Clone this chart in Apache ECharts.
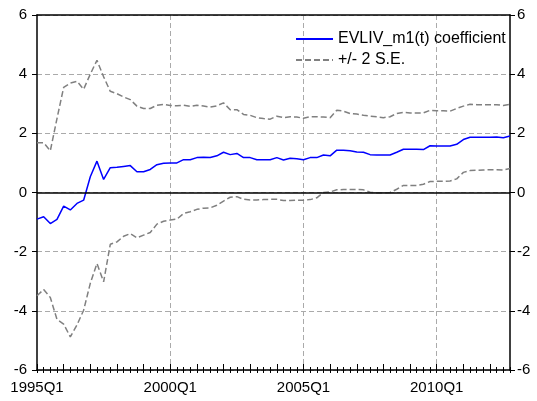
<!DOCTYPE html>
<html><head><meta charset="utf-8">
<script src="https://cdn.jsdelivr.net/npm/echarts@6/dist/echarts.min.js"></script>
<style>html,body{margin:0;padding:0;background:#fff}#c{width:537px;height:401px}</style>
</head><body><div id="c"></div>
<script>
const startYear = 1995;
const nQuarters = 72;
const categories = [];
for (let k = 0; k < nQuarters; k++) categories.push((startYear + Math.floor(k / 4)) + 'Q' + (k % 4 + 1));

const coefficient = [
  -0.90, -0.82, -1.05, -0.91, -0.46, -0.59, -0.37, -0.26, 0.53, 1.06,
  0.44, 0.84, 0.85, 0.88, 0.91, 0.70, 0.70, 0.78, 0.94, 0.99,
  1.00, 1.00, 1.11, 1.11, 1.18, 1.19, 1.18, 1.24, 1.36, 1.28,
  1.32, 1.18, 1.18, 1.11, 1.11, 1.11, 1.18, 1.10, 1.16, 1.14,
  1.11, 1.18, 1.18, 1.27, 1.24, 1.43, 1.43, 1.41, 1.37, 1.36,
  1.28, 1.27, 1.27, 1.27, 1.36, 1.46, 1.46, 1.46, 1.45, 1.58,
  1.57, 1.57, 1.57, 1.63, 1.79, 1.87, 1.87, 1.87, 1.87, 1.88,
  1.85, 1.91
];
const upperSE = [
  1.68, 1.68, 1.41, 2.50, 3.55, 3.70, 3.76, 3.49, 4.00, 4.47,
  3.91, 3.42, 3.34, 3.23, 3.14, 2.92, 2.84, 2.84, 2.95, 2.98,
  2.94, 2.93, 2.95, 2.91, 2.95, 2.92, 2.89, 2.93, 3.03, 2.80,
  2.80, 2.64, 2.61, 2.53, 2.50, 2.48, 2.58, 2.53, 2.56, 2.55,
  2.51, 2.56, 2.56, 2.55, 2.53, 2.78, 2.75, 2.67, 2.65, 2.61,
  2.58, 2.56, 2.53, 2.56, 2.67, 2.71, 2.69, 2.69, 2.69, 2.78,
  2.76, 2.76, 2.75, 2.84, 2.92, 2.98, 2.97, 2.97, 2.97, 2.97,
  2.94, 2.98
];
const lowerSE = [
  -3.49, -3.28, -3.55, -4.29, -4.45, -4.88, -4.48, -3.98, -3.07, -2.40,
  -3.02, -1.75, -1.67, -1.48, -1.39, -1.53, -1.44, -1.35, -1.07, -0.97,
  -0.93, -0.90, -0.71, -0.65, -0.57, -0.53, -0.52, -0.43, -0.29, -0.16,
  -0.14, -0.23, -0.25, -0.25, -0.24, -0.23, -0.23, -0.27, -0.27, -0.26,
  -0.26, -0.24, -0.18, 0.00, 0.02, 0.09, 0.10, 0.10, 0.10, 0.09,
  0.01, -0.01, -0.01, 0.00, 0.11, 0.24, 0.24, 0.24, 0.28, 0.37,
  0.38, 0.38, 0.39, 0.46, 0.68, 0.74, 0.75, 0.76, 0.77, 0.77,
  0.76, 0.81
];
const yMin = -6, yMax = 6, yInterval = 2;
const coefName = 'EVLIV_m1(t) coefficient';
const seName = '+/- 2 S.E.';

const FONT = "'Liberation Sans', Arial, Helvetica, sans-serif";
const labelEvery = (i) => i % 20 === 0;
const gridEvery = (i) => i % 20 === 0 && i > 0;

const chart = echarts.init(document.getElementById('c'), null, { renderer: 'canvas' });
const baseX = {
  type: 'category', data: categories, boundaryGap: false, gridIndex: 0
};
chart.setOption({
  animation: false,
  backgroundColor: '#fff',
  grid: { left: 37, right: 27, top: 15, bottom: 31, containLabel: false },
  legend: {
    left: 290, top: 26, orient: 'vertical', itemWidth: 37, itemHeight: 14, itemGap: 5,
    itemStyle: { opacity: 0 },
    textStyle: { fontFamily: FONT, fontSize: 16, color: '#000', padding: [0, 0, 0, 0] },
    data: [{ name: coefName }, { name: seName }]
  },
  xAxis: [
    Object.assign({}, baseX, {
      position: 'bottom',
      axisLine: { show: true, onZero: false, lineStyle: { color: '#000', width: 1.5 } },
      axisTick: { show: true, inside: false, length: 3, interval: 0, lineStyle: { color: '#000', width: 1 } },
      axisLabel: { show: true, interval: labelEvery, margin: 10, fontFamily: FONT, fontSize: 15, color: '#000' },
      splitLine: { show: true, interval: gridEvery, lineStyle: { color: '#aaa', type: [5, 3], width: 1 } }
    }),
    Object.assign({}, baseX, {
      position: 'bottom',
      axisLine: { show: false, onZero: false },
      axisTick: { show: true, inside: true, length: 3, interval: 0, lineStyle: { color: '#000', width: 1 } },
      axisLabel: { show: false }, splitLine: { show: false }
    }),
    Object.assign({}, baseX, {
      position: 'bottom',
      axisLine: { show: false, onZero: false },
      axisTick: { show: true, inside: true, length: 6, interval: (i) => i % 4 === 0, lineStyle: { color: '#000', width: 1 } },
      axisLabel: { show: false }, splitLine: { show: false }
    }),
    Object.assign({}, baseX, {
      position: 'top',
      axisLine: { show: true, onZero: false, lineStyle: { color: '#000', width: 1.5 } },
      axisTick: { show: false }, axisLabel: { show: false }, splitLine: { show: false }
    })
  ],
  yAxis: [
    {
      type: 'value', min: yMin, max: yMax, interval: yInterval, position: 'left',
      axisLine: { show: true, onZero: false, lineStyle: { color: '#000', width: 1.5 } },
      axisTick: { show: true, inside: false, length: 5, lineStyle: { color: '#000' } },
      axisLabel: { show: true, margin: 10, fontFamily: FONT, fontSize: 15, color: '#000' },
      splitLine: { show: true, lineStyle: { color: '#aaa', type: [5, 3], width: 1 } }
    },
    {
      type: 'value', min: yMin, max: yMax, interval: yInterval, position: 'right',
      axisLine: { show: true, onZero: false, lineStyle: { color: '#000', width: 1.5 } },
      axisTick: { show: true, inside: false, length: 5, lineStyle: { color: '#000' } },
      axisLabel: { show: true, margin: 7, fontFamily: FONT, fontSize: 15, color: '#000' },
      splitLine: { show: false }
    }
  ],
  series: [
    {
      name: seName, type: 'line', data: upperSE, xAxisIndex: 0, yAxisIndex: 0,
      symbol: 'none', showSymbol: false,
      lineStyle: { color: '#808080', width: 1.5, type: [6, 3] }, itemStyle: { color: '#808080' },
      z: 3
    },
    {
      name: seName, type: 'line', data: lowerSE, xAxisIndex: 0, yAxisIndex: 0,
      symbol: 'none', showSymbol: false,
      lineStyle: { color: '#808080', width: 1.5, type: [6, 3] }, itemStyle: { color: '#808080' },
      z: 3
    },
    {
      name: coefName, type: 'line', data: coefficient, xAxisIndex: 0, yAxisIndex: 0,
      symbol: 'none', showSymbol: false,
      lineStyle: { color: '#0000ff', width: 1.5, type: 'solid' }, itemStyle: { color: '#0000ff' },
      z: 4,
      markLine: {
        silent: true, symbol: 'none', label: { show: false },
        lineStyle: { color: '#000', width: 1.5, type: 'solid' },
        data: [{ yAxis: 0 }]
      }
    }
  ]
});
</script>
</body></html>
